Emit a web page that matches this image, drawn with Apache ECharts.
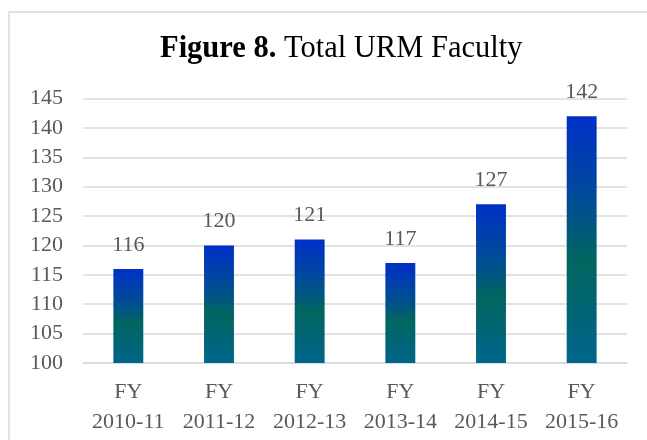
<!DOCTYPE html>
<html>
<head>
<meta charset="utf-8">
<script src="https://cdn.jsdelivr.net/npm/echarts@6/dist/echarts.min.js"></script>
<style>
  html, body { margin: 0; padding: 0; background: #fff; }
  #chart { width: 647px; height: 440px; }
</style>
</head>
<body>
<div id="chart"></div>
<script>
// values
const categories = ['FY\n2010-11', 'FY\n2011-12', 'FY\n2012-13', 'FY\n2013-14', 'FY\n2014-15', 'FY\n2015-16'];
const faculty = [116, 120, 121, 117, 127, 142];
const yMin = 100;
const yMax = 145;
const yStep = 5;

const font = 'Liberation Serif, Times New Roman, serif';
const grey = '#595959';

const barFill = new echarts.graphic.LinearGradient(0, 0, 0, 1, [
    { offset: 0, color: '#0030c8' },
    { offset: 0.3, color: '#00489c' },
    { offset: 0.48, color: '#005a78' },
    { offset: 0.58, color: '#00665e' },
    { offset: 0.8, color: '#006476' },
    { offset: 1, color: '#00668c' }
]);

const chart = echarts.init(document.getElementById('chart'));

chart.setOption({
    animation: false,
    title: {
        text: '{b|Figure 8.} Total URM Faculty',
        left: 160,
        top: 31,
        padding: 0,
        textStyle: {
            fontFamily: font,
            fontSize: 30.5,
            fontWeight: 'normal',
            color: '#000',
            lineHeight: 36,
            rich: {
                b: { fontFamily: font, fontSize: 30.5, fontWeight: 'bold', color: '#000', lineHeight: 36 }
            }
        }
    },
    graphic: [{
        type: 'rect',
        shape: { x: 9, y: 12, width: 700, height: 500 },
        style: { fill: 'none', stroke: '#d9d9d9', lineWidth: 1.5 },
        silent: true
    }],
    grid: {
        left: 83,
        right: 20,
        top: 98.5,
        bottom: 77,
        containLabel: false
    },
    xAxis: {
        type: 'category',
        data: categories,
        axisTick: { show: false },
        axisLine: { show: true, lineStyle: { color: '#d9d9d9', width: 1.5 } },
        axisLabel: {
            fontFamily: font,
            fontSize: 22,
            color: grey,
            lineHeight: 30,
            margin: 14,
            interval: 0
        }
    },
    yAxis: {
        type: 'value',
        min: yMin,
        max: yMax,
        interval: yStep,
        axisTick: { show: false },
        axisLine: { show: false },
        splitLine: { lineStyle: { color: '#d9d9d9', width: 1.5 } },
        axisLabel: {
            fontFamily: font,
            fontSize: 22,
            color: grey,
            margin: 20
        }
    },
    series: [{
        type: 'bar',
        data: faculty,
        barWidth: '33%',
        itemStyle: { color: barFill },
        label: {
            show: true,
            position: 'top',
            distance: 13,
            fontFamily: font,
            fontSize: 22,
            color: grey
        }
    }]
});
</script>
</body>
</html>
